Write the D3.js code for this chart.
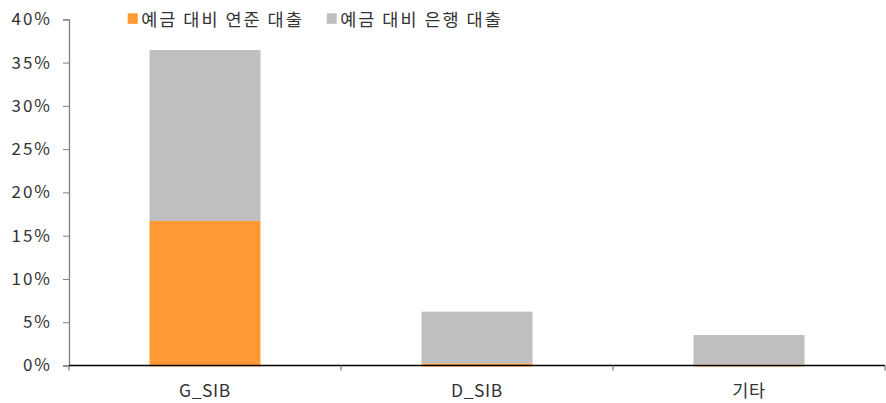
<!DOCTYPE html>
<html>
<head>
<meta charset="utf-8">
<script src="https://cdn.jsdelivr.net/npm/d3@7"></script>
<style>
  html, body { margin: 0; padding: 0; background: #fff; }
  text { font-family: "Noto Sans CJK KR", "Noto Sans", sans-serif; fill: #333; }
</style>
</head>
<body>
<svg id="chart" width="886" height="403"></svg>
<script>
// Loans as a share of deposits, by bank group (%)
const categories = ["G_SIB", "D_SIB", "기타"];
const fedLoans = [16.7, 0.25, 0.1];      // 예금 대비 연준 대출
const bankLoans = [19.75, 5.97, 3.42];   // 예금 대비 은행 대출
const yTicks = [0, 5, 10, 15, 20, 25, 30, 35, 40];
const seriesNames = ["예금 대비 연준 대출", "예금 대비 은행 대출"];
const seriesColors = ["#FF9933", "#BFBFBF"];

const svg = d3.select("#chart");
const plotLeft = 69, plotRight = 885, plotTop = 19.3, plotBottom = 365.5;

const x = d3.scaleBand().domain(categories).range([plotLeft, plotRight]).padding(0);
const y = d3.scaleLinear().domain([0, 40]).range([plotBottom, plotTop]);
const barW = x.bandwidth() * 0.408;

const rows = categories.map((c, i) => ({ cat: c, fed: fedLoans[i], bank: bankLoans[i] }));
const stacked = d3.stack().keys(["fed", "bank"])(rows);

// bars
svg.append("g").selectAll("g").data(stacked).join("g")
  .attr("fill", (d, i) => seriesColors[i])
  .selectAll("rect").data(d => d).join("rect")
  .attr("x", d => x(d.data.cat) + x.bandwidth() / 2 - barW / 2)
  .attr("width", barW)
  .attr("y", d => y(d[1]))
  .attr("height", d => y(d[0]) - y(d[1]) + (d[0] === 0 ? 1 : 0));

// y axis
const yAxis = svg.append("g").attr("transform", `translate(${plotLeft},0)`)
  .call(d3.axisLeft(y).tickValues(yTicks).tickFormat(d => d + "%").tickSize(6).tickPadding(11));
yAxis.select(".domain").attr("stroke", "#7f7f7f").attr("stroke-width", 1.3);
yAxis.selectAll(".tick line").attr("stroke", "#7f7f7f");
yAxis.selectAll(".tick text").attr("font-size", 17).style("fill", "#333")
  .attr("letter-spacing", 2)
  .attr("font-family", "'Noto Sans CJK KR', sans-serif");

// x axis
const xTickPos = d3.range(categories.length + 1).map(i => plotLeft + i * x.step());
const xg = svg.append("g");
xg.append("line").attr("x1", plotLeft).attr("x2", plotRight).attr("y1", plotBottom).attr("y2", plotBottom)
  .attr("stroke", "#000").attr("stroke-width", 1.3);
xg.selectAll("line.tk").data(xTickPos).join("line").attr("class", "tk")
  .attr("x1", d => d).attr("x2", d => d).attr("y1", plotBottom).attr("y2", plotBottom + 5)
  .attr("stroke", "#7f7f7f").attr("stroke-width", 1.3);
xg.selectAll("text").data(categories).join("text")
  .attr("x", d => x(d) + x.bandwidth() / 2)
  .attr("y", 389)
  .attr("text-anchor", "middle")
  .attr("dominant-baseline", "central")
  .attr("font-size", 17.5)
  .attr("letter-spacing", 0.6)
  .text(d => d);

// legend
const legendX = [127.7, 326.7];
const lg = svg.append("g").selectAll("g").data(seriesNames).join("g")
  .attr("transform", (d, i) => `translate(${legendX[i]},13.3)`);
lg.append("rect").attr("width", 10).attr("height", 10.5)
  .attr("fill", (d, i) => seriesColors[i]);
lg.append("text").attr("x", 13.5).attr("y", 5.5)
  .attr("dominant-baseline", "central")
  .attr("font-size", 17.5)
  .attr("letter-spacing", 2)
  .text(d => d);
</script>
</body>
</html>
